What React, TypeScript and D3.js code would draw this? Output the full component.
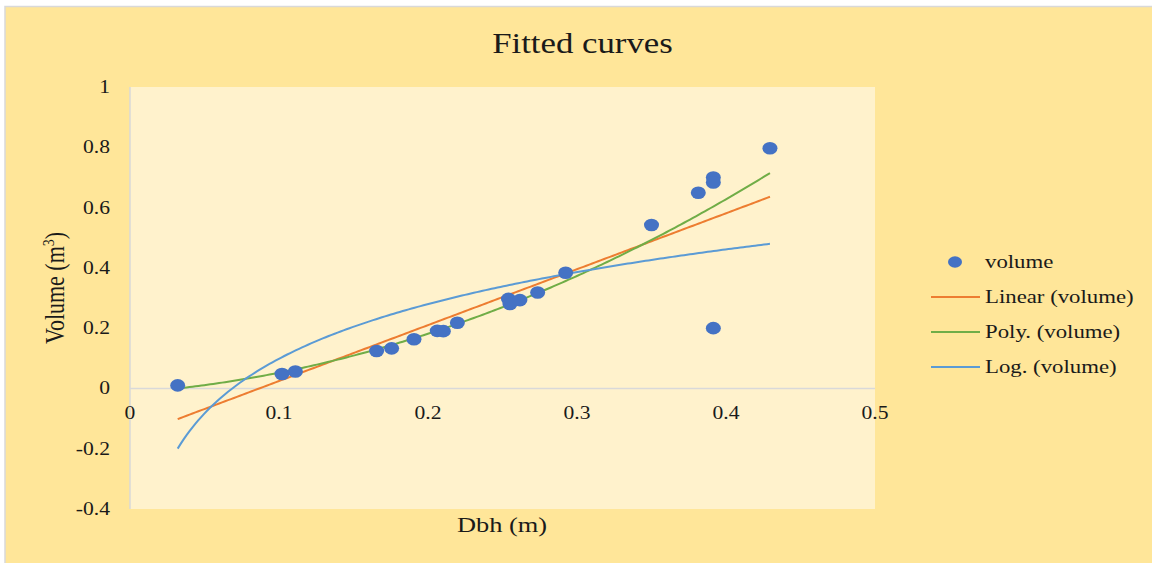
import React from "react";
import * as d3 from "d3";

const dbh: number[] = [0.032, 0.102, 0.111, 0.1655, 0.1756, 0.1906, 0.2062, 0.2103, 0.2197, 0.254, 0.255, 0.2617, 0.2736, 0.2924, 0.35, 0.3814, 0.3915, 0.3915, 0.3915, 0.4295];
const volume: number[] = [0.01, 0.048, 0.056, 0.124, 0.133, 0.163, 0.191, 0.19, 0.218, 0.297, 0.28, 0.293, 0.318, 0.384, 0.542, 0.649, 0.7, 0.683, 0.2, 0.797];
const xTicks: number[] = [0, 0.1, 0.2, 0.3, 0.4, 0.5];
const yTicks: number[] = [-0.4, -0.2, 0, 0.2, 0.4, 0.6, 0.8, 1];
const legendLabels: string[] = ["volume", "Linear (volume)", "Poly. (volume)", "Log. (volume)"];
// trendline coefficients: y = c0 + c1*x  and  y = c0 + c1*ln(x)
const linearCoef: number[] = [-0.161, 1.855];
const logCoef: number[] = [0.701, 0.2617];

const W = 1152, H = 563;
const FONT = "'Liberation Serif', 'Times New Roman', serif";
const SX = 1.2;
const plot = { left: 130, right: 875, top: 87, bottom: 509 };
const colors = { dot: "#4472C4", lin: "#ED7D31", poly: "#70AD47", log: "#5B9BD5" };

function solve(A: number[][], b: number[]): number[] {
  const n = b.length;
  const M = A.map((r, i) => [...r, b[i]]);
  for (let i = 0; i < n; i++) {
    let p = i;
    for (let k = i + 1; k < n; k++) if (Math.abs(M[k][i]) > Math.abs(M[p][i])) p = k;
    [M[i], M[p]] = [M[p], M[i]];
    for (let k = i + 1; k < n; k++) {
      const f = M[k][i] / M[i][i];
      for (let j = i; j <= n; j++) M[k][j] -= f * M[i][j];
    }
  }
  const x = new Array(n).fill(0);
  for (let i = n - 1; i >= 0; i--) {
    let s = M[i][n];
    for (let j = i + 1; j < n; j++) s -= M[i][j] * x[j];
    x[i] = s / M[i][i];
  }
  return x;
}

function polyFit(xs: number[], ys: number[], order: number): number[] {
  const m = order + 1;
  const A = Array.from({ length: m }, () => new Array(m).fill(0));
  const b = new Array(m).fill(0);
  xs.forEach((x, i) => {
    for (let r = 0; r < m; r++) {
      b[r] += ys[i] * Math.pow(x, r);
      for (let c = 0; c < m; c++) A[r][c] += Math.pow(x, r + c);
    }
  });
  return solve(A, b);
}

const polyC = polyFit(dbh, volume, 2);
const evalPoly = (c: number[], x: number) => c.reduce((s, v, i) => s + v * Math.pow(x, i), 0);
const fmt = (t: number) => String(t);

function SText(props: { x: number; y: number; anchor?: string; size: number; children: React.ReactNode }) {
  const { x, y, anchor = "start", size, children } = props;
  return (
    <text
      transform={`translate(${x},${y}) scale(${SX},1)`}
      textAnchor={anchor}
      fontFamily={FONT}
      fontSize={size}
      fill="#1a1a1a"
    >
      {children}
    </text>
  );
}

export default function App() {
  const x = d3.scaleLinear().domain([0, 0.5]).range([plot.left, plot.right]);
  const y = d3.scaleLinear().domain([-0.4, 1]).range([plot.bottom, plot.top]);
  const xmin = d3.min(dbh)!, xmax = d3.max(dbh)!;
  const xs = d3.range(0, 201).map((i) => xmin + ((xmax - xmin) * i) / 200);
  const line = d3.line<[number, number]>().x((d) => x(d[0])).y((d) => y(d[1]));
  const linPath = line(xs.map((v) => [v, evalPoly(linearCoef, v)]));
  const polyPath = line(xs.map((v) => [v, evalPoly(polyC, v)]));
  const logPath = line(xs.map((v) => [v, logCoef[0] + logCoef[1] * Math.log(v)]));

  const legendX = 931;
  const legendRows = [262, 297, 332, 367];

  return (
    <svg width={W} height={H} style={{ position: "absolute", left: 0, top: 0 }}>
      <rect x={0} y={0} width={W} height={H} fill="#ffffff" />
      <rect x={5} y={6.5} width={W} height={H} fill="#FFE699" stroke="#D9D9D9" strokeWidth={1.5} />
      <rect x={plot.left} y={plot.top} width={plot.right - plot.left} height={plot.bottom - plot.top} fill="#FFF2CC" />
      <line x1={plot.left} x2={plot.left} y1={plot.top} y2={plot.bottom} stroke="#D9D9D9" strokeWidth={1.5} />
      <line x1={plot.left} x2={plot.right} y1={y(0)} y2={y(0)} stroke="#D9D9D9" strokeWidth={1.5} />

      <SText x={582.5} y={53} anchor="middle" size={29}>Fitted curves</SText>

      {yTicks.map((t) => (
        <SText key={"y" + t} x={110} y={y(t) + 6} anchor="end" size={18}>{fmt(t)}</SText>
      ))}
      {xTicks.map((t) => (
        <SText key={"x" + t} x={x(t)} y={419} anchor="middle" size={18}>{fmt(t)}</SText>
      ))}

      <SText x={502} y={532} anchor="middle" size={22}>Dbh (m)</SText>
      <text transform={`translate(64,288) scale(${SX},1) rotate(-90)`} textAnchor="middle" fontFamily={FONT} fontSize={22} fill="#1a1a1a">
        Volume (m<tspan fontSize={14} dy={-8}>3</tspan><tspan dy={8}>)</tspan>
      </text>

      <path d={linPath!} fill="none" stroke={colors.lin} strokeWidth={2} />
      <path d={polyPath!} fill="none" stroke={colors.poly} strokeWidth={2} />
      <path d={logPath!} fill="none" stroke={colors.log} strokeWidth={2} />

      {dbh.map((d, i) => (
        <ellipse key={i} cx={x(d)} cy={y(volume[i])} rx={7.5} ry={6.3} fill={colors.dot} />
      ))}

      <ellipse cx={955} cy={legendRows[0]} rx={7} ry={5.8} fill={colors.dot} />
      {[colors.lin, colors.poly, colors.log].map((c, i) => (
        <line key={c} x1={legendX} x2={980} y1={legendRows[i + 1]} y2={legendRows[i + 1]} stroke={c} strokeWidth={2} />
      ))}
      {legendLabels.map((l, i) => (
        <SText key={l} x={985} y={legendRows[i] + 6} size={19}>{l}</SText>
      ))}
    </svg>
  );
}
